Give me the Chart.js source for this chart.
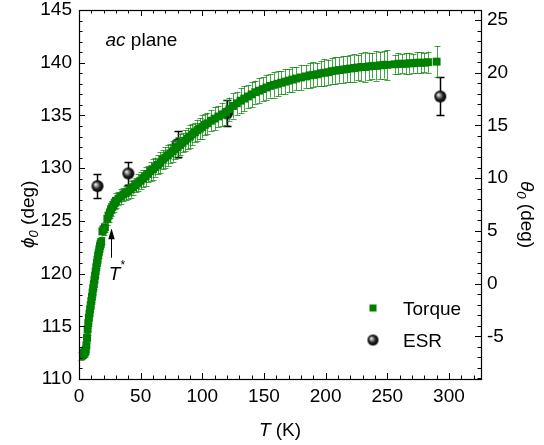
<!DOCTYPE html>
<html><head><meta charset="utf-8">
<script src="https://cdn.jsdelivr.net/npm/chart.js@4.4.1/dist/chart.umd.min.js"></script>
<style>html,body{margin:0;padding:0;background:#fff;overflow:hidden}#wrap{width:544px;height:445px}</style>
</head><body><div id="wrap"><canvas id="c" width="544" height="445"></canvas></div>
<script>
// ---------- data ----------
const torqueT = [2,2.5,3,3.5,4,4.5,5,5.5,6,6.5,7,7.5,8,8.5,9,9.5,10,10.5,11,11.5,12,12.5,13,13.5,14,14.5,15,15.5,16,16.5,17,17.5,18,
 19,20,21,23,24,25,26,27,28,29,30,
 32,34,36,38,40,42,44,46,48,50,
 52,54,56,58,60,62,64,66,68,70,72,74,76,78,80,82,84,86,88,90,92,94,96,98,100,102,104,
 107,110,113,116,119,122,125,128,131,134,137,140,143,146,149,152,155,158,161,164,167,170,173,176,
 180,184,187,190,193,196,199,202,205,208,211,214,217,220,223,226,229,232,235,238,241,244,247,250,
 256,259,262,265,268,271,274,277,280,283,
 290];
const torquePhi = [112.2,112.3,112.3,112.4,112.5,112.5,112.6,112.8,113.2,113.9,114.7,115.3,115.8,116.2,116.6,117.0,117.4,117.8,118.2,118.6,119.0,119.4,119.8,120.2,120.6,121.0,121.3,121.7,122.0,122.3,122.6,122.8,123.0,
 124.0,124.2,124.4,125.2,125.5,125.8,126.1,126.3,126.5,126.7,126.9,
 127.1,127.3,127.5,127.65,127.8,128.0,128.2,128.4,128.6,128.8,
 129.0,129.2,129.45,129.7,129.9,130.1,130.3,130.5,130.8,131.0,131.2,131.4,131.6,131.8,132.0,132.2,132.4,132.6,132.8,133.0,133.2,133.4,133.6,133.75,133.9,134.1,134.25,
 134.5,134.7,134.9,135.1,135.3,135.6,135.9,136.15,136.4,136.6,136.8,137.0,137.2,137.35,137.5,137.65,137.8,137.9,138.0,138.1,138.2,138.3,138.4,138.5,
 138.6,138.7,138.8,138.85,138.9,139.0,139.05,139.1,139.2,139.25,139.3,139.35,139.4,139.45,139.5,139.55,139.6,139.6,139.65,139.7,139.7,139.75,139.8,139.8,
 139.85,139.9,139.9,139.9,139.95,139.95,140.0,140.0,140.0,140.05,
 140.1];
const torqueErr = [0.4,0.4,0.3,0.4,0.3,0.4,0.3,0.4,0.4,0.5,0.5,0.5,0.5,0.4,0.5,0.4,0.5,0.5,0.4,0.5,0.5,0.4,0.5,0.5,0.4,0.5,0.5,0.5,0.5,0.4,0.5,0.5,0.5,
 0.5,0.5,0.5,0.6,0.6,0.5,0.6,0.6,0.7,0.6,0.7,
 0.6,0.7,0.6,0.7,0.7,0.8,0.7,0.7,0.8,0.8,
 0.8,0.9,0.8,0.9,1.0,0.9,0.9,1.0,0.9,1.0,1.0,0.9,1.0,0.9,1.0,1.0,0.9,1.0,1.0,1.1,1.0,0.9,1.0,1.0,1.1,1.0,1.0,
 1.0,1.1,1.0,1.1,1.2,1.1,1.2,1.1,1.2,1.2,1.1,1.2,1.1,1.2,1.1,1.2,1.1,1.2,1.2,1.1,1.2,1.1,1.2,1.1,
 1.2,1.1,1.2,1.2,1.1,1.2,1.3,1.2,1.2,1.3,1.2,1.3,1.2,1.3,1.3,1.2,1.3,1.4,1.3,1.2,1.4,1.3,1.3,1.4,
 0.9,1.0,0.9,1.0,1.0,0.9,1.0,1.0,0.9,1.0,
 1.5];
const esrT   = [15, 40, 80, 120, 293];
const esrPhi = [128.3, 129.5, 132.3, 135.2, 136.8];
const esrErr = [1.1, 1.1, 1.2, 1.25, 1.8];

const xTicks = [0, 50, 100, 150, 200, 250, 300];
const phiTicks = [110, 115, 120, 125, 130, 135, 140, 145];
const thetaTicks = [-5, 0, 5, 10, 15, 20, 25];
const xRange = [0, 326];
const phiRange = [110, 145];
const thetaOffset = 119.05;   // theta = phi - offset
const xMinorStep = 10, yMinorStep = 1;
const tStar = {T: 25.9, tip: 124.3, tail: 121.5};

// ---------- styles ----------
const FAM = '"Liberation Sans", Arial, Helvetica, sans-serif';
const GREEN = '#008000';
const F = s => s + 'px ' + FAM;
const FI = s => 'italic ' + s + 'px ' + FAM;

function sphere(r) {
  const c = document.createElement('canvas');
  const s = Math.ceil(r * 2 + 2);
  c.width = s; c.height = s;
  const g = c.getContext('2d');
  const cx = s / 2, cy = s / 2;
  const gr = g.createRadialGradient(cx - r * 0.35, cy - r * 0.3, 0.3, cx, cy, r);
  gr.addColorStop(0, '#f4f4f4');
  gr.addColorStop(0.25, '#9a9a9a');
  gr.addColorStop(0.6, '#222');
  gr.addColorStop(1, '#000');
  g.fillStyle = gr;
  g.beginPath(); g.arc(cx, cy, r, 0, Math.PI * 2); g.fill();
  return c;
}
const sphereImg = sphere(6);
const sphereLeg = sphere(5.5);

const errSets = [
  {err: torqueErr, color: 'rgba(0,128,0,0.72)', lw: 1, cap: 3},
  {err: esrErr, color: '#000', lw: 1.5, cap: 4}
];

function runs(ctx, list, x, y) {
  let cx = x;
  for (const [t, f, dy] of list) {
    ctx.font = f;
    ctx.fillText(t, cx, y + (dy || 0));
    cx += ctx.measureText(t).width;
  }
  return cx - x;
}
function runsWidth(ctx, list) {
  let w = 0;
  for (const [t, f] of list) { ctx.font = f; w += ctx.measureText(t).width; }
  return w;
}

const deco = {
  id: 'deco',
  beforeDatasetDraw(chart, args) {
    const e = errSets[args.index];
    const meta = args.meta;
    const ys = chart.scales.y;
    const ds = chart.data.datasets[args.index];
    const ctx = chart.ctx;
    ctx.save();
    ctx.strokeStyle = e.color; ctx.lineWidth = e.lw;
    meta.data.forEach((pt, i) => {
      const v = ds.data[i].y;
      const y1 = ys.getPixelForValue(v - e.err[i]);
      const y2 = ys.getPixelForValue(v + e.err[i]);
      const x = Math.round(pt.x) + 0.5;
      ctx.beginPath();
      ctx.moveTo(x, y1); ctx.lineTo(x, y2);
      ctx.moveTo(x - e.cap, Math.round(y1) + 0.5); ctx.lineTo(x + e.cap, Math.round(y1) + 0.5);
      ctx.moveTo(x - e.cap, Math.round(y2) + 0.5); ctx.lineTo(x + e.cap, Math.round(y2) + 0.5);
      ctx.stroke();
    });
    ctx.restore();
  },
  afterDraw(chart) {
    const ctx = chart.ctx;
    const a = chart.chartArea;
    const xs = chart.scales.x, ys = chart.scales.y, y2 = chart.scales.y2;
    ctx.save();
    ctx.strokeStyle = '#000'; ctx.fillStyle = '#000';
    ctx.lineWidth = 1.2;
    ctx.strokeRect(a.left + 0.5, a.top + 0.5, a.right - a.left, a.bottom - a.top);
    ctx.lineWidth = 1;
    const MAJ = 6, MIN = 3.5;
    ctx.beginPath();
    for (let v = xRange[0]; v <= xRange[1]; v += xMinorStep) {
      const x = Math.round(xs.getPixelForValue(v)) + 0.5;
      const L = xTicks.includes(v) ? MAJ : MIN;
      ctx.moveTo(x, a.bottom); ctx.lineTo(x, a.bottom - L);
      ctx.moveTo(x, a.top); ctx.lineTo(x, a.top + L);
    }
    for (let v = phiRange[0]; v <= phiRange[1]; v += yMinorStep) {
      const y = Math.round(ys.getPixelForValue(v)) + 0.5;
      const L = phiTicks.includes(v) ? MAJ : MIN;
      ctx.moveTo(a.left, y); ctx.lineTo(a.left + L, y);
    }
    for (let v = Math.ceil(y2.min); v <= Math.floor(y2.max); v += yMinorStep) {
      const y = Math.round(y2.getPixelForValue(v)) + 0.5;
      const L = thetaTicks.includes(v) ? MAJ : MIN;
      ctx.moveTo(a.right, y); ctx.lineTo(a.right - L, y);
    }
    ctx.stroke();

    ctx.textBaseline = 'alphabetic';
    ctx.textAlign = 'left';
    const xt = [['T', FI(19)], [' (K)', F(19)]];
    runs(ctx, xt, (a.left + a.right) / 2 - runsWidth(ctx, xt) / 2, 436);
    ctx.save();
    ctx.translate(34, 248); ctx.rotate(-Math.PI / 2);
    runs(ctx, [['\u03D5', FI(19)], ['0', FI(13), 4], [' (deg)', F(19)]], 0, 0);
    ctx.restore();
    ctx.save();
    ctx.translate(521, 181); ctx.rotate(Math.PI / 2);
    runs(ctx, [['\u03B8', FI(19)], ['0', FI(13), 4], [' (deg)', F(19)]], 0, 0);
    ctx.restore();
    runs(ctx, [['ac', FI(19)], [' plane', F(19)]], xs.getPixelForValue(21.5), ys.getPixelForValue(141.55));
    const ax = Math.round(xs.getPixelForValue(tStar.T)) + 0.5;
    const tipY = ys.getPixelForValue(tStar.tip), tailY = ys.getPixelForValue(tStar.tail);
    ctx.beginPath(); ctx.moveTo(ax, tailY); ctx.lineTo(ax, tipY + 8); ctx.stroke();
    ctx.beginPath(); ctx.moveTo(ax, tipY); ctx.lineTo(ax - 3.2, tipY + 11); ctx.lineTo(ax + 3.2, tipY + 11); ctx.closePath(); ctx.fill();
    runs(ctx, [['T', FI(19)], ['*', F(12), -11]], xs.getPixelForValue(24.2), ys.getPixelForValue(119.4));
    ctx.fillStyle = GREEN;
    ctx.fillRect(369.5, 304.5, 7, 7);
    ctx.drawImage(sphereLeg, 373 - sphereLeg.width / 2, 340 - sphereLeg.height / 2);
    ctx.fillStyle = '#000';
    ctx.font = F(19);
    ctx.fillText('Torque', 403, 315);
    ctx.fillText('ESR', 403, 347);
    ctx.restore();
  }
};

const ticksFrom = arr => s => { s.ticks = arr.map(v => ({value: v})); };

new Chart(document.getElementById('c'), {
  type: 'scatter',
  data: {
    datasets: [
      {label: 'Torque', data: torqueT.map((t, i) => ({x: t, y: torquePhi[i]})),
       pointStyle: 'rect', pointRadius: 5.6, backgroundColor: GREEN, borderWidth: 0, borderColor: GREEN, yAxisID: 'y'},
      {label: 'ESR', data: esrT.map((t, i) => ({x: t, y: esrPhi[i]})),
       pointStyle: sphereImg, pointRadius: 6, yAxisID: 'y'}
    ]
  },
  options: {
    responsive: false, animation: false, devicePixelRatio: 1,
    layout: {padding: {top: 10, left: 0, right: 0, bottom: 0}},
    plugins: {legend: {display: false}, tooltip: {enabled: false}},
    scales: {
      x: {type: 'linear', min: xRange[0], max: xRange[1], position: 'bottom',
          grid: {display: false, drawTicks: false}, border: {display: false},
          afterBuildTicks: ticksFrom(xTicks),
          afterFit: s => { s.height = 66; s.paddingLeft = 0; s.paddingRight = 0; },
          ticks: {font: {family: FAM, size: 19}, color: '#000', padding: 6, maxRotation: 0, autoSkip: false}},
      y: {type: 'linear', min: phiRange[0], max: phiRange[1], position: 'left',
          grid: {display: false, drawTicks: false}, border: {display: false},
          afterBuildTicks: ticksFrom(phiTicks),
          afterFit: s => { s.width = 79; s.paddingTop = 0; s.paddingBottom = 0; },
          ticks: {font: {family: FAM, size: 19}, color: '#000', padding: 7}},
      y2: {type: 'linear', min: phiRange[0] - thetaOffset, max: phiRange[1] - thetaOffset, position: 'right',
          grid: {display: false, drawTicks: false}, border: {display: false},
          afterBuildTicks: ticksFrom(thetaTicks),
          afterFit: s => { s.width = 63; s.paddingTop = 0; s.paddingBottom = 0; },
          ticks: {font: {family: FAM, size: 19}, color: '#000', padding: 6}}
    }
  },
  plugins: [deco]
});
</script>
</body></html>
